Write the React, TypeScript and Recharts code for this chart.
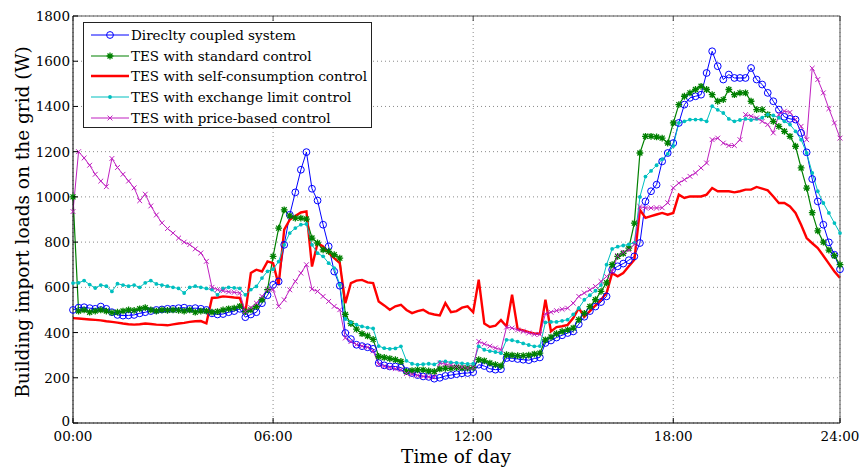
import React from "react";
import { LineChart, Line, XAxis, YAxis, CartesianGrid } from "recharts";

// 10-minute slots from 00:00; the axis ends at slot 138 (labelled 24:00 in the source figure)
const timeTicks = [0, 36, 72, 108, 138];
const timeLabels = ["00:00", "06:00", "12:00", "18:00", "24:00"];
const loadTicks = [0, 200, 400, 600, 800, 1000, 1200, 1400, 1600, 1800];

const directlyCoupled = [
  500, 510, 512, 508, 505, 515,
  505, 490, 478, 475, 476, 478,
  485, 490, 495, 500, 502, 505,
  505, 508, 510, 505, 508, 505,
  500, 485, 480, 482, 490, 495,
  505, 468, 480, 490, 530, 565,
  611, 626, 788, 921, 1020, 1120,
  1198, 1036, 984, 877, 781, 670,
  607, 398, 371, 346, 340, 335,
  328, 265, 255, 250, 250, 245,
  230, 221, 212, 206, 204, 196,
  200, 208, 212, 216, 220, 221,
  225, 258, 252, 240, 236, 238,
  287, 287, 283, 280, 278, 285,
  290, 354, 365, 378, 388, 398,
  405, 437, 470, 495, 515, 535,
  560, 678, 693, 705, 720, 737,
  796, 980, 1025, 1054, 1157, 1194,
  1238, 1327, 1408, 1438, 1445, 1452,
  1548, 1644, 1578, 1519, 1541, 1526,
  1526, 1526, 1570, 1519, 1497, 1460,
  1423, 1386, 1354, 1345, 1342, 1283,
  1197, 1079, 980, 877, 799, 744,
  680,
];

const standardControl = [
  1000, 495, 500, 490, 495, 500,
  495, 488, 490, 495, 500, 498,
  505, 510, 500, 495, 500, 498,
  500, 498, 495, 500, 490, 495,
  495, 490, 493, 500, 505, 508,
  516, 493, 500, 515, 545, 590,
  737, 862, 943, 916, 906, 906,
  902, 818, 796, 766, 759, 744,
  729, 480, 440, 415, 395, 385,
  370, 294, 290, 285, 280, 272,
  228, 232, 235, 235, 230, 228,
  239, 242, 242, 245, 243, 243,
  245, 280, 275, 265, 258, 253,
  302, 300, 298, 298, 300, 305,
  309, 368, 380, 395, 405, 412,
  420, 457, 485, 515, 545, 582,
  620, 700, 737, 750, 773, 884,
  1194, 1268, 1268, 1265, 1260, 1238,
  1327, 1408, 1445, 1460, 1475, 1489,
  1475, 1452, 1423, 1430, 1475, 1452,
  1460, 1460, 1423, 1386, 1386, 1364,
  1334, 1312, 1290, 1268, 1224, 1128,
  1039, 930, 850, 800, 765, 740,
  700,
];

const selfConsumption = [
  464, 462, 460, 458, 456, 454,
  450, 447, 444, 440, 437, 435,
  437, 440, 438, 435, 434, 432,
  436, 440, 443, 447, 450, 451,
  441, 553, 555, 560, 558, 555,
  553, 486, 663, 678, 670, 715,
  707, 610, 855, 899, 916, 931,
  936, 692, 796, 781, 752, 729,
  707, 530, 619, 630, 633, 622,
  619, 537, 520, 501, 516, 523,
  500, 486, 495, 501, 486, 480,
  476, 530, 490, 495, 510, 516,
  490, 634, 440, 425, 430, 455,
  427, 567, 416, 410, 402, 396,
  394, 545, 405, 424, 428, 434,
  464, 508, 470, 495, 520, 545,
  575, 663, 649, 663, 693, 722,
  943, 907, 915, 922, 929, 921,
  929, 1010, 995, 1002, 1002, 1002,
  1010, 1039, 1025, 1025, 1025, 1020,
  1025, 1032, 1032, 1044, 1037, 1029,
  1002, 973, 973, 958, 929, 877,
  818, 795, 774, 740, 705, 670,
  642,
];

const exchangeLimit = [
  619, 620, 630, 612, 597, 610,
  605, 582, 616, 610, 605, 610,
  600, 620, 630, 615, 610, 605,
  600, 595, 575, 600, 605, 600,
  595, 590, 567, 595, 600, 598,
  595, 567, 590, 604, 641, 671,
  680, 714, 788, 840, 862, 877,
  880, 788, 751, 737, 707, 685,
  611, 460, 445, 435, 427, 422,
  418, 340, 331, 328, 330, 339,
  275, 262, 258, 260, 262, 259,
  270, 272, 268, 266, 264, 261,
  262, 339, 324, 318, 314, 309,
  368, 366, 360, 352, 345, 339,
  340, 445, 447, 447, 452, 457,
  480, 508, 545, 565, 585, 610,
  700, 770, 780, 785, 790, 797,
  1000, 1090, 1115, 1140, 1166, 1190,
  1225, 1327, 1334, 1342, 1342, 1342,
  1334, 1401, 1385, 1371, 1345, 1334,
  1340, 1345, 1340, 1345, 1350, 1364,
  1360, 1350, 1334, 1320, 1290, 1253,
  1194, 1106, 1025, 973, 929, 884,
  840,
];

const priceBased = [
  935, 1200, 1172, 1140, 1100, 1070,
  1045, 1170, 1130, 1100, 1070, 1040,
  983, 1012, 960, 920, 885, 860,
  840, 818, 800, 789, 770, 752,
  715, 600, 590, 585, 580, 578,
  575, 493, 510, 530, 560, 590,
  590, 516, 545, 589, 626, 663,
  700, 592, 582, 560, 538, 516,
  501, 376, 360, 347, 340, 335,
  319, 258, 250, 245, 240, 236,
  219, 215, 210, 206, 204, 203,
  265, 260, 255, 250, 247, 243,
  245, 361, 350, 340, 332, 324,
  424, 420, 412, 405, 398, 392,
  392, 483, 490, 497, 503, 508,
  530, 560, 575, 589, 604, 626,
  648, 670, 740, 755, 765, 790,
  957, 951, 951, 951, 952, 974,
  1040, 1061, 1076, 1091, 1106, 1128,
  1150, 1253, 1260, 1238, 1227, 1227,
  1253, 1364, 1357, 1349, 1334, 1320,
  1283, 1364, 1379, 1374, 1342, 1312,
  1253, 1569, 1519, 1460, 1390, 1327,
  1260,
];

const chartData = directlyCoupled.map((v, i) => ({
  slot: i,
  direct: v,
  standard: standardControl[i],
  self: selfConsumption[i],
  exchange: exchangeLimit[i],
  price: priceBased[i],
}));

const FONT = "'DejaVu Serif', 'Liberation Serif', serif";

type MarkerKind = "circle" | "star" | "none" | "dot" | "cross";

function Marker({ kind, cx, cy, color }: { kind: MarkerKind; cx: number; cy: number; color: string }) {
  if (kind === "circle")
    return <circle cx={cx} cy={cy} r={3.4} fill="none" stroke={color} strokeWidth={1} />;
  if (kind === "dot") return <circle cx={cx} cy={cy} r={1.9} fill={color} />;
  if (kind === "cross") {
    const s = 2.4;
    return (
      <path
        d={`M${cx - s},${cy - s}L${cx + s},${cy + s}M${cx - s},${cy + s}L${cx + s},${cy - s}`}
        stroke={color}
        strokeWidth={1}
      />
    );
  }
  if (kind === "star") {
    const s = 3.4;
    const d = 2.5;
    return (
      <path
        d={`M${cx - s},${cy}L${cx + s},${cy}M${cx},${cy - s}L${cx},${cy + s}M${cx - d},${cy - d}L${cx + d},${cy + d}M${cx - d},${cy + d}L${cx + d},${cy - d}`}
        stroke={color}
        strokeWidth={1.3}
      />
    );
  }
  return null;
}

const series = [
  { key: "direct", name: "Direclty coupled system", color: "#0000ff", width: 1, marker: "circle" as MarkerKind },
  { key: "standard", name: "TES with standard control", color: "#008000", width: 1.2, marker: "star" as MarkerKind },
  { key: "self", name: "TES with self-consumption control", color: "#ff0000", width: 2.4, marker: "none" as MarkerKind },
  { key: "exchange", name: "TES with exchange limit control", color: "#00bfbf", width: 1, marker: "dot" as MarkerKind },
  { key: "price", name: "TES with price-based control", color: "#c020c0", width: 1, marker: "cross" as MarkerKind },
];

const LeftTick = ({ x, y, payload }: any) => (
  <g>
    <line x1={x} x2={x + 5} y1={y} y2={y} stroke="#000" />
    <text x={x - 3} y={y} dy={payload.value === 0 ? 3 : 5} textAnchor="end" fontFamily={FONT} fontSize={13.5} fill="#000">
      {payload.value}
    </text>
  </g>
);

const RightTick = ({ x, y }: any) => <line x1={x} x2={x - 5} y1={y} y2={y} stroke="#444" />;

const BottomTick = ({ x, y, payload }: any) => {
  const idx = timeTicks.indexOf(payload.value);
  return (
    <g>
      <line x1={x} x2={x} y1={y} y2={y - 5} stroke="#000" />
      <text x={x} y={y} dy={18} textAnchor="middle" fontFamily={FONT} fontSize={13.5} fill="#000">
        {timeLabels[idx]}
      </text>
    </g>
  );
};

const TopTick = ({ x, y }: any) => <line x1={x} x2={x} y1={y} y2={y + 5} stroke="#444" />;

function LegendBox() {
  return (
    <div
      style={{
        position: "absolute",
        left: 83,
        top: 22,
        width: 289,
        height: 106,
        border: "1px solid #222",
        background: "#fff",
        paddingTop: 2,
        boxSizing: "border-box",
      }}
    >
      {series.map((s) => (
        <div key={s.key} style={{ display: "flex", alignItems: "center", height: 20.6 }}>
          <svg width={46} height={14} style={{ marginLeft: 5 }}>
            <line x1={2} x2={40} y1={7} y2={7} stroke={s.color} strokeWidth={s.width} />
            <Marker kind={s.marker} cx={21} cy={7} color={s.color} />
          </svg>
          <span style={{ fontFamily: FONT, fontSize: 13.5, color: "#000", whiteSpace: "nowrap", marginLeft: -4 }}>
            {s.name}
          </span>
        </div>
      ))}
    </div>
  );
}

export default function App() {
  return (
    <div style={{ position: "relative", width: 859, height: 469, background: "#fff" }}>
      <style>{"body{margin:0}"}</style>
      <LineChart width={859} height={469} data={chartData} margin={{ top: 0, right: 0, bottom: 0, left: 0 }}>
        <CartesianGrid stroke="#8a8a8a" strokeDasharray="1 3" />
        <XAxis
          dataKey="slot"
          type="number"
          domain={[0, 138]}
          ticks={timeTicks}
          height={46}
          tickSize={0}
          tickMargin={0}
          tick={<BottomTick />}
          axisLine={{ stroke: "#000" }}
          tickLine={false}
          interval={0}
        />
        <XAxis
          xAxisId="top"
          dataKey="slot"
          type="number"
          orientation="top"
          domain={[0, 138]}
          ticks={timeTicks}
          height={16}
          tickSize={0}
          tickMargin={0}
          tick={<TopTick />}
          axisLine={{ stroke: "#555" }}
          tickLine={false}
          interval={0}
        />
        <YAxis
          type="number"
          domain={[0, 1800]}
          ticks={loadTicks}
          width={73}
          tickSize={0}
          tickMargin={0}
          tick={<LeftTick />}
          axisLine={{ stroke: "#000" }}
          tickLine={false}
          interval={0}
        />
        <YAxis
          yAxisId="right"
          orientation="right"
          type="number"
          domain={[0, 1800]}
          ticks={loadTicks}
          width={19}
          tickSize={0}
          tickMargin={0}
          tick={<RightTick />}
          axisLine={{ stroke: "#555" }}
          tickLine={false}
          interval={0}
        />
        {series.map((s) => (
          <Line
            key={s.key}
            type="linear"
            dataKey={s.key}
            name={s.name}
            stroke={s.color}
            strokeWidth={s.width}
            isAnimationActive={false}
            activeDot={false}
            dot={
              s.marker === "none"
                ? false
                : (p: any) => <Marker key={`${s.key}-${p.index}`} kind={s.marker} cx={p.cx} cy={p.cy} color={s.color} />
            }
          />
        ))}
      </LineChart>
      <LegendBox />
      <div
        style={{
          position: "absolute",
          left: 22,
          top: 222,
          transform: "translate(-50%, -50%) rotate(-90deg)",
          fontFamily: FONT,
          fontSize: 18.5,
          whiteSpace: "nowrap",
          color: "#000",
        }}
      >
        Building import loads on the grid (W)
      </div>
      <div
        style={{
          position: "absolute",
          left: 456,
          top: 456,
          transform: "translate(-50%, -50%)",
          fontFamily: FONT,
          fontSize: 18.5,
          whiteSpace: "nowrap",
          color: "#000",
        }}
      >
        Time of day
      </div>
    </div>
  );
}
